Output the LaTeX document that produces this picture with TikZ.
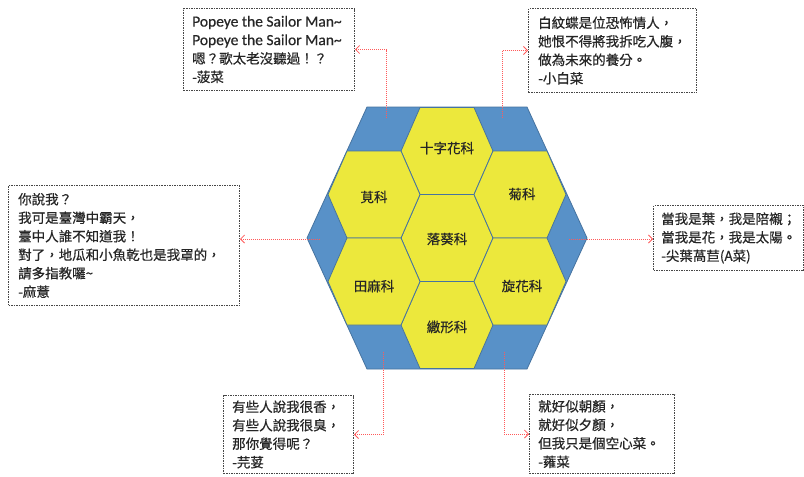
\documentclass[tikz,border=0pt]{standalone}
\usepackage{fontspec}
\setmainfont{Noto Sans CJK TC}[FakeBold=0.5]
\newfontfamily\latinfont{Carlito}[FakeBold=0.5]
\usetikzlibrary{arrows.meta,calc}
\definecolor{hexblue}{RGB}{88,145,200}
\definecolor{hexyellow}{RGB}{236,232,60}
\definecolor{hexline}{RGB}{70,115,160}
\definecolor{connred}{RGB}{255,90,90}
\definecolor{boxline}{RGB}{70,70,70}
\newcommand\cellhex[2]{\path[cell, shift={(#1,#2)}] (-46,0) -- (-27,-43.5) -- (27,-43.5) -- (46,0) -- (27,43.5) -- (-27,43.5) -- cycle;}
\newcommand\lat[1]{{\latinfont\fontsize{15.5}{18.5}\selectfont #1}}
\begin{document}
\begin{tikzpicture}[x=1pt,y=-1pt,
  bighex/.style={fill=hexblue, draw=hexline, line width=0.8pt},
  cell/.style={fill=hexyellow, draw=hexline, line width=0.8pt},
  celltext/.style={font=\fontsize{13.5}{16}\selectfont, inner sep=0pt, text=black!85},
  notebox/.style={draw=boxline, dash pattern=on 1.5pt off 1pt, line width=1pt, anchor=north west, inner sep=0pt},
  notetext/.style={font=\fontsize{13.5}{18.5}\selectfont, align=left, anchor=west, inner sep=0pt, text=black!85},
  conn/.style={draw=connred, dash pattern=on 1pt off 1pt, line width=0.8pt, -{Straight Barb[length=4pt,width=8pt]}}]
\useasboundingbox[fill=white] (0,0) rectangle (804,477);
% big hexagon
\path[bighex] (367,107) -- (527,107) -- (587,238) -- (527,369) -- (367,369) -- (307,238) -- cycle;
% cells
\cellhex{447}{151}
\cellhex{447}{238}
\cellhex{447}{325}
\cellhex{374}{194.5}
\cellhex{520}{194.5}
\cellhex{374}{281.5}
\cellhex{520}{281.5}
\node[celltext] (h1) at (447,148) {十字花科};
\node[celltext] (h2) at (374,197) {莧科};
\node[celltext] (h3) at (522,194) {菊科};
\node[celltext] (h4) at (447,239) {落葵科};
\node[celltext] (h5) at (374,286) {田麻科};
\node[celltext] (h6) at (522,286) {旋花科};
\node[celltext] (h7) at (447,327) {繖形科};
% note boxes
\node[notebox, minimum width=171pt, minimum height=82pt] (b1) at (183,8) {};
\node[notebox, minimum width=168pt, minimum height=84pt] (b2) at (528,8) {};
\node[notebox, minimum width=231pt, minimum height=120pt] (b3) at (8,185) {};
\node[notebox, minimum width=150pt, minimum height=65pt] (b4) at (653,205) {};
\node[notebox, minimum width=130pt, minimum height=78pt] (b5) at (223,395) {};
\node[notebox, minimum width=145pt, minimum height=79pt] (b6) at (529,394) {};
\node[notetext] (t1) at ([xshift=9pt]b1.west) {\lat{Popeye the Sailor Man\textasciitilde}\\\lat{Popeye the Sailor Man\textasciitilde}\\嗯？歌太老沒聽過！？\\-菠菜};
\node[notetext] (t2) at ([xshift=10pt]b2.west) {白紋蝶是位恐怖情人，\\她恨不得將我拆吃入腹，\\做為未來的養分。\\-小白菜};
\node[notetext] (t3) at ([xshift=10pt]b3.west) {你說我？\\我可是臺灣中霸天，\\臺中人誰不知道我！\\對了，地瓜和小魚乾也是我罩的，\\請多指教囉\textasciitilde\\-麻薏};
\node[notetext] (t4) at ([xshift=8pt]b4.west) {當我是葉，我是陪襯；\\當我是花，我是太陽。\\-尖葉萵苣(A菜)};
\node[notetext] (t5) at ([xshift=9pt]b5.west) {有些人說我很香，\\有些人說我很臭，\\那你覺得呢？\\-芫荽};
\node[notetext] (t6) at ([xshift=9pt]b6.west) {就好似朝顏，\\就好似夕顏，\\但我只是個空心菜。\\-蕹菜};
% connectors
\coordinate (c1) at (386,118);
\coordinate (c2) at (502,118);
\coordinate (c3) at (320,239);
\coordinate (c4) at (569,239);
\coordinate (c5) at (383,352);
\coordinate (c6) at (504,352);
\draw[conn] (c1) |- (b1.east);
\draw[conn] (c2) |- (b2.west);
\draw[conn] (c3) -- (c3 -| b3.east);
\draw[conn] (c4) -- (c4 -| b4.west);
\draw[conn] (c5) |- (b5.east);
\draw[conn] (c6) |- (b6.west);
\end{tikzpicture}
\end{document}
